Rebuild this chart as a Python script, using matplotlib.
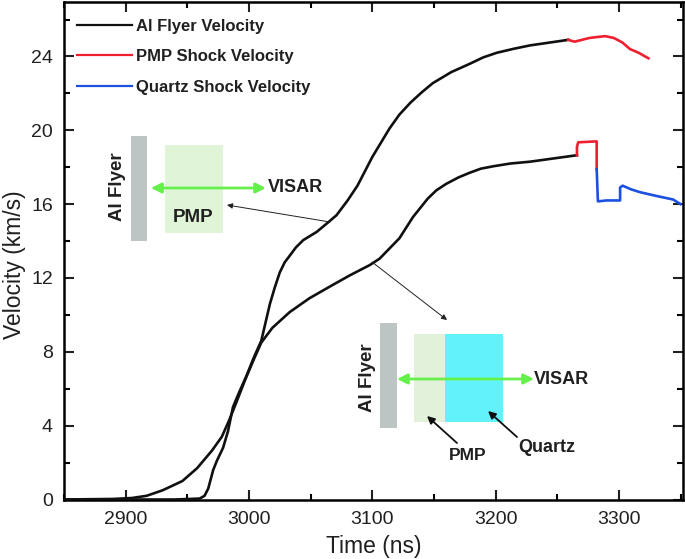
import matplotlib
matplotlib.use('Agg')
import matplotlib.pyplot as plt
from matplotlib.patches import Rectangle
from matplotlib.ticker import MultipleLocator

plt.rcParams['font.family'] = ['Liberation Sans', 'DejaVu Sans']

# Al flyer velocity, steep curve
t_steep = [2850, 2900, 2940, 2960, 2964, 2967, 2969, 2971, 2974, 2979, 2983, 2987, 2992, 2998, 3004, 3010, 3017,
           3021, 3025, 3029, 3033, 3038, 3044, 3055, 3064, 3071, 3080, 3088, 3100, 3114, 3122, 3131, 3140, 3149,
           3164, 3179, 3190, 3201, 3215, 3228, 3259]
v_steep = [0, 0, 0, 0.05, 0.2, 0.6, 1.1, 1.6, 2.1, 2.8, 3.7, 5.0, 5.8, 6.7, 7.7, 8.6, 10.6,
           11.5, 12.3, 12.85, 13.2, 13.65, 14.05, 14.5, 15.0, 15.4, 16.2, 17.0, 18.55, 20.1, 20.85, 21.5, 22.05, 22.55,
           23.15, 23.6, 23.95, 24.2, 24.42, 24.6, 24.9]

# Al flyer velocity, slow curve
t_slow = [2850, 2890, 2905, 2917, 2930, 2946, 2958, 2970, 2978, 2984, 2990, 2997, 3004, 3010, 3019, 3033, 3049,
          3066, 3082, 3098, 3106, 3114, 3122, 3133, 3145, 3152, 3160, 3170, 3179, 3188, 3198, 3212, 3228, 3266]
v_slow = [0, 0.03, 0.08, 0.2, 0.5, 1.0, 1.7, 2.65, 3.4, 4.3, 5.3, 6.5, 7.6, 8.5, 9.3, 10.15, 10.9,
          11.55, 12.15, 12.7, 13.05, 13.6, 14.15, 15.3, 16.3, 16.75, 17.1, 17.45, 17.7, 17.92, 18.05, 18.2, 18.3, 18.65]

# PMP shock velocity
t_pmp_top = [3259, 3264, 3270, 3276, 3282, 3289, 3296, 3303, 3309, 3316, 3324]
v_pmp_top = [24.9, 24.8, 24.9, 25.0, 25.05, 25.1, 25.0, 24.75, 24.4, 24.2, 23.9]
t_pmp_low = [3266, 3266, 3267, 3282, 3282]
v_pmp_low = [18.65, 19.1, 19.35, 19.4, 17.9]

# Quartz shock velocity
t_qtz = [3282, 3283, 3290, 3301, 3301, 3303, 3310, 3317, 3330, 3344, 3350]
v_qtz = [17.9, 16.15, 16.2, 16.2, 16.9, 17.0, 16.8, 16.65, 16.45, 16.25, 16.0]

x_ticks = [2900, 3000, 3100, 3200, 3300]
y_ticks = [0, 4, 8, 12, 16, 20, 24]

W, H = 685, 559

# pixel position in the picture -> figure fraction
def px(x, y):
    return x / W, 1 - y / H

fig = plt.figure(figsize=(6.85, 5.59), dpi=100)
ax = fig.add_axes([64 / W, 1 - 499.5 / H, (683 - 64) / W, (499.5 - 2) / H])

ax.plot(t_steep, v_steep, color='#101010', lw=1.9, label='Al Flyer Velocity', zorder=5)
ax.plot(t_slow, v_slow, color='#101010', lw=1.9, zorder=5)
ax.plot(t_pmp_top, v_pmp_top, color='#ee2030', lw=1.9, label='PMP Shock Velocity', zorder=5)
ax.plot(t_pmp_low, v_pmp_low, color='#ee2030', lw=1.9, zorder=5)
ax.plot(t_qtz, v_qtz, color='#1c50e0', lw=1.9, label='Quartz Shock Velocity', zorder=5)

ax.set_xlim(2850, 3352)
ax.set_ylim(0, 26.95)
ax.set_xticks(x_ticks)
ax.set_yticks(y_ticks)
ax.xaxis.set_minor_locator(MultipleLocator(50))
ax.yaxis.set_minor_locator(MultipleLocator(2))
ax.tick_params(which='major', direction='in', top=True, right=True, length=7, width=1.5, labelsize=14, pad=8, colors='#202020')
ax.tick_params(which='minor', direction='in', top=True, right=True, length=4, width=1.5)
ax.set_xlabel('Time (ns)', fontsize=16.5, color='#202020', labelpad=5)
ax.set_ylabel('Velocity (km/s)', fontsize=16.5, color='#202020')
ax.yaxis.set_label_coords(-0.061, 0.471)
for s in ax.spines.values():
    s.set_linewidth(1.8)

leg = ax.legend(loc='upper left', bbox_to_anchor=(13 / 619, 1 - 17 / 497.5), frameon=False, handlelength=3.3,
                handletextpad=0.25, labelspacing=0.92, borderpad=0, borderaxespad=0,
                prop={'family': 'Liberation Sans', 'weight': 'bold', 'size': 12})
for txt in leg.get_texts():
    txt.set_color('#202020')
for ln in leg.get_lines():
    ln.set_linewidth(1.6)

# inset sketches
def box(x0, x1, y0, y1, color):
    fx, fy = px(x0, y1)
    fig.add_artist(Rectangle((fx, fy), (x1 - x0) / W, (y1 - y0) / H, transform=fig.transFigure,
                             facecolor=color, edgecolor='none', zorder=3))

def label(x, y, s, rot=0, size=12):
    fx, fy = px(x, y)
    fig.text(fx, fy, s, rotation=rot, fontsize=size, fontweight='bold', color='#202020', ha='center', va='center', zorder=6)

def arrow(p0, p1, lw, color, style, scale):
    fig.add_artist(matplotlib.patches.FancyArrowPatch(px(*p0), px(*p1), transform=fig.transFigure, arrowstyle=style,
                                                      mutation_scale=scale, lw=lw, color=color,
                                                      shrinkA=0, shrinkB=0, zorder=6))

box(131, 147, 136, 241, '#bcc4c4')
box(165, 223, 145, 233, '#e0f4d8')
arrow((151, 188), (266, 188), 2, '#66f04c', '<|-|>', 15)
label(296, 188, 'VISAR', size=13)
label(118, 187, 'Al Flyer', rot=90, size=13.5)
label(193, 218, 'PMP', size=13.5)
arrow((330, 222), (227, 205), 0.7, '#202020', '-|>', 8)

box(380, 397, 323, 428, '#bcc4c4')
box(414, 445, 334, 422, '#e2f1da')
box(445, 503, 334, 422, '#62f2fb')
arrow((397, 379), (534, 379), 2, '#66f04c', '<|-|>', 15)
label(562, 379, 'VISAR', size=13)
label(368, 378, 'Al Flyer', rot=90, size=13.5)
label(468, 456, 'PMP', size=12.5)
label(547, 447, 'Quartz', size=13)
arrow((457, 443), (427, 416), 1.3, '#101010', '-|>', 11)
arrow((517, 437), (488, 411), 1.3, '#101010', '-|>', 11)
arrow((372, 262), (447, 320), 0.7, '#202020', '-|>', 8)

fig.savefig('out.png', dpi=100)
